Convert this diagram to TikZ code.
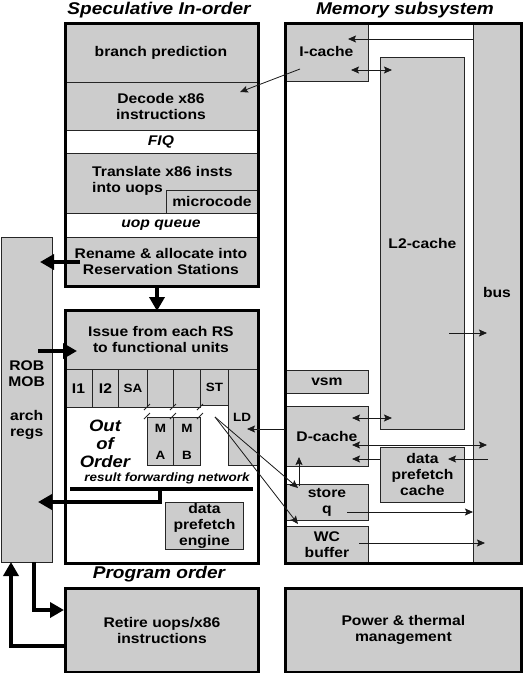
\documentclass[tikz,border=0pt]{standalone}
\usepackage{fontspec}
\setmainfont{Liberation Sans}[FakeStretch=1.12]
\usetikzlibrary{arrows.meta}
\definecolor{cgray}{RGB}{204,204,204}
\newcommand\myfs[2]{\fontsize{#1}{#2}\selectfont}
\newcommand\mybox[7]{\node[#1, minimum width={(#5-#3)*1pt}, minimum height={(#6-#4)*1pt}] (#2) at (#3,#4) {#7};}
\tikzset{
  box/.style={draw=black!85, line width=0.9pt, fill=cgray, inner sep=0pt, anchor=north west, align=center, font=\myfs{14}{16}\bfseries},
  wbox/.style={box, fill=white},
  fbox/.style={box, draw=black, line width=2.8pt},
  frame/.style={draw=black, line width=2.8pt, inner sep=0pt, anchor=north west},
  lbl/.style={inner sep=0pt, align=center, font=\myfs{14}{16}\bfseries},
  ttl/.style={inner sep=0pt, font=\myfs{17}{19}\bfseries\itshape},
  small/.style={font=\myfs{12}{14}\bfseries},
  ta/.style={draw=black!90, line width=0.8pt, -{Stealth[length=8pt,width=7pt,inset=1.5pt]}},
  tda/.style={draw=black!90, line width=0.8pt, {Stealth[length=8pt,width=7pt,inset=1.5pt]}-{Stealth[length=8pt,width=7pt,inset=1.5pt]}},
  fa/.style={draw=black, line width=4pt, line join=miter, -{Triangle[length=14pt,width=15pt]}},
}
\begin{document}
\begin{tikzpicture}[x=1pt,y=-1pt]
\useasboundingbox (0,0) rectangle (523,673);
% titles
\node[ttl] (t1) at (159,10) {Speculative In-order};
\node[ttl] (t2) at (405,10) {Memory subsystem};
\node[ttl] (t3) at (159,574) {Program order};
% ROB
\mybox{box}{rob}{0.5}{237}{52}{562}{ROB\\MOB\\[18pt]arch\\regs}
% speculative in-order column
\mybox{box}{bp}{64}{22}{257}{82}{branch prediction}
\mybox{box}{dec}{64}{82}{257}{130}{Decode x86\\instructions}
\mybox{wbox}{fiq}{64}{130}{257}{153}{\itshape FIQ}
\mybox{box}{tr}{64}{153}{257}{213}{}
\node[lbl, anchor=west, align=left] (trt) at (92,181) {Translate x86 insts\\into uops};
\mybox{box}{mc}{166}{190}{257}{213}{microcode}
\mybox{wbox}{uq}{64}{213}{257}{237}{\itshape uop queue}
\mybox{box}{ren}{64}{237}{257}{285}{Rename \& allocate into\\Reservation Stations}
\node[frame, minimum width=193pt, minimum height=263pt] (spec) at (64,22) {};
% out of order
\mybox{box}{iss}{64}{309}{257}{369}{Issue from each RS\\to functional units}
\mybox{box}{i1}{64}{369}{92}{407}{I1}
\mybox{box}{i2}{92}{369}{118}{407}{I2}
\mybox{box,small}{sa}{118}{369}{147}{407}{SA}
\mybox{box}{mat}{147}{369}{173}{407}{}
\mybox{box}{mbt}{173}{369}{200}{407}{}
\mybox{box,small}{st}{200}{369}{228}{405}{ST}
\mybox{box}{ld}{228}{369}{257}{465}{}
\node[lbl, small] (ldt) at (242,417) {LD};
\mybox{box,small}{mal}{147}{417}{173}{465}{M\\[13pt]A}
\mybox{box,small}{mbl}{173}{417}{200}{465}{M\\[13pt]B}
\foreach \x in {147,173,200}{
  \draw[line width=0.8pt, black!85] (\x-3,410) -- (\x+3,404);
  \draw[line width=0.8pt, black!85] (\x-3,419) -- (\x+3,413);
}
\node[inner sep=0pt, align=center, font=\myfs{16.5}{18}\bfseries\itshape] (ooo) at (105,444) {Out\\of\\Order};
\node[inner sep=0pt, font=\myfs{12}{14}\bfseries\itshape] (rfnt) at (167,478) {result forwarding network};
\coordinate (rfnL) at (70,489);
\coordinate (rfnR) at (253,489);
\draw[line width=4.3pt] (rfnL) -- (rfnR);
\mybox{box}{dpe}{165}{502}{243}{549}{\myfs{14}{15}\bfseries data\\prefetch\\engine}
\node[frame, minimum width=193pt, minimum height=253pt] (ooobox) at (64,309) {};
% retire & power
\mybox{fbox}{ret}{64}{587}{257}{671}{Retire uops/x86\\instructions}
\mybox{fbox}{pwr}{284}{587}{520}{671}{Power \& thermal\\management}
% memory subsystem
\mybox{box}{bus}{473}{22}{520}{562}{bus}
\mybox{box}{ic}{284}{22}{368}{81}{I-cache}
\mybox{box}{l2}{380}{57}{464}{429}{L2-cache}
\mybox{box}{vsm}{285}{370}{368}{393}{vsm}
\mybox{box}{dc}{285}{406}{368}{466}{D-cache}
\mybox{box}{dpc}{380}{447}{464}{502}{\myfs{14}{15}\bfseries data\\prefetch\\cache}
\mybox{box}{sq}{285}{484}{368}{520}{store\\q}
\mybox{box}{wc}{285}{526}{368}{562}{WC\\buffer}
\node[frame, minimum width=236pt, minimum height=540pt] (mem) at (284,22) {};
% thin arrows
\draw[ta] (bus.west |- 0,39) -- (348,39);
\draw[tda] (351,70) -- (392,70);
\draw[ta] (300,69) -- (240,92);
\draw[ta] (449,333) -- (487,333);
\draw[ta] (dc.west |- 0,429) -- (247,429);
\draw[tda] (352,418) -- (392,418);
\draw[tda] (352,445) -- (487,445);
\draw[ta] (dpc.west |- 0,459) -- (352,459);
\draw[ta] (488,459) -- (448,459);
\draw[ta] (347,512) -- (bus.west |- 0,512);
\draw[ta] (359,543) -- (485,543);
\draw[ta] (299,486) -- (299,457);
\coordinate (stp) at (215,417);
\draw[ta] (stp) -- (298,488);
\draw[ta] (stp) -- (298,524);
% thick arrows
\draw[fa] (80,262) -- (40,262);
\draw[fa] (ren.south -| 157,0) -- (157,311);
\draw[fa] (38,351) -- (77,351);
\draw[fa] (160,489) -- (160,502) -- (38,502);
\draw[fa] (34,562) -- (34,610) -- (ret.west |- 0,610);
\draw[fa] (ret.west |- 0,646) -- (11,646) -- (11,562);
\end{tikzpicture}
\end{document}
